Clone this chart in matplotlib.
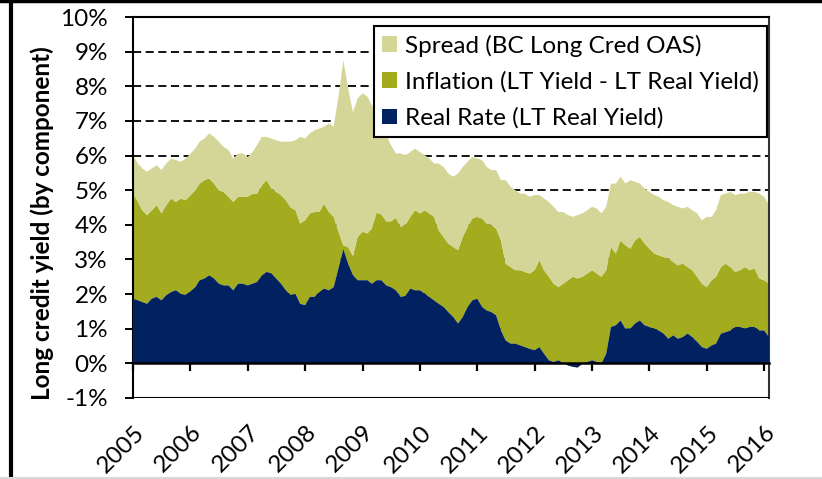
import matplotlib
matplotlib.use('Agg')
import matplotlib.pyplot as plt
import matplotlib.transforms as mtrans
import matplotlib.ticker as plticker
from matplotlib.lines import Line2D
import numpy as np
import pandas as pd

plt.rcParams['font.family'] = ['Lato', 'DejaVu Sans']

# month-start observations, Jan 2005 .. Feb 2016
dates = pd.date_range('2005-01-01', periods=134, freq='MS')

# total long credit yield, %
credit_yield = [
    6.0, 5.77, 5.63, 5.53, 5.63, 5.72, 5.58, 5.77, 5.91, 5.87, 5.82, 5.91,
    6.05, 6.2, 6.4, 6.49, 6.64, 6.54, 6.4, 6.25, 6.16, 5.91, 6.06, 6.06,
    5.96, 6.1, 6.3, 6.54, 6.54, 6.49, 6.44, 6.4, 6.4, 6.4, 6.44, 6.54,
    6.49, 6.64, 6.73, 6.78, 6.83, 6.93, 6.83, 7.7, 8.75, 7.95, 7.25, 7.65,
    7.8, 7.7, 7.45, 7.25, 7.0, 6.6, 6.3, 6.06, 6.06, 6.01, 6.1, 6.2,
    6.1, 6.01, 5.92, 5.77, 5.77, 5.67, 5.48, 5.39, 5.48, 5.67, 5.82, 5.96,
    5.91, 5.87, 5.67, 5.58, 5.58, 5.29, 5.29, 5.1, 5.0, 4.9, 4.9, 4.81,
    4.86, 4.86, 4.76, 4.66, 4.52, 4.37, 4.37, 4.28, 4.23, 4.28, 4.33, 4.42,
    4.52, 4.47, 4.33, 4.52, 5.19, 5.19, 5.39, 5.19, 5.29, 5.24, 5.19, 5.05,
    4.95, 4.86, 4.81, 4.71, 4.66, 4.57, 4.52, 4.47, 4.52, 4.42, 4.33, 4.13,
    4.23, 4.23, 4.42, 4.86, 4.9, 4.95, 4.86, 4.9, 4.9, 4.95, 4.95, 4.9,
    4.81, 4.57,
]

# nominal long treasury yield, %
lt_yield = [
    4.9, 4.66, 4.42, 4.28, 4.42, 4.57, 4.33, 4.57, 4.76, 4.66, 4.76, 4.71,
    4.85, 5.0, 5.19, 5.29, 5.34, 5.19, 5.0, 4.95, 4.81, 4.66, 4.81, 4.81,
    4.81, 4.9, 4.9, 5.14, 5.29, 5.05, 4.95, 4.86, 4.71, 4.5, 4.42, 4.04,
    4.13, 4.33, 4.37, 4.37, 4.61, 4.37, 4.23, 3.8, 3.4, 3.36, 3.1, 3.65,
    3.8, 3.75, 3.9, 4.35, 4.3, 4.1, 4.1, 4.2, 3.94, 4.0, 4.23, 4.42,
    4.33, 4.42, 4.33, 4.23, 3.84, 3.65, 3.46, 3.36, 3.27, 3.65, 3.94, 4.18,
    4.23, 4.18, 4.04, 3.99, 3.89, 3.55, 2.88, 2.78, 2.69, 2.69, 2.64, 2.59,
    2.69, 2.98, 2.69, 2.5, 2.3, 2.2, 2.3, 2.4, 2.5, 2.45, 2.5, 2.59,
    2.69, 2.59, 2.5, 2.69, 3.36, 3.17, 3.55, 3.41, 3.31, 3.55, 3.65, 3.46,
    3.31, 3.17, 3.12, 3.07, 3.03, 2.93, 2.83, 2.88, 2.78, 2.69, 2.5, 2.3,
    2.2, 2.4, 2.5, 2.78, 2.88, 2.78, 2.64, 2.69, 2.78, 2.69, 2.74, 2.45,
    2.4, 2.3,
]

# long real (TIPS) yield, %
real_yield = [
    1.87, 1.82, 1.77, 1.72, 1.87, 1.92, 1.82, 1.97, 2.06, 2.11, 2.01, 1.97,
    2.08, 2.2, 2.4, 2.45, 2.54, 2.45, 2.3, 2.25, 2.25, 2.11, 2.3, 2.3,
    2.25, 2.3, 2.35, 2.54, 2.64, 2.6, 2.45, 2.3, 2.11, 1.97, 2.01, 1.72,
    1.68, 1.92, 1.92, 2.06, 2.16, 2.11, 2.2, 2.75, 3.3, 2.88, 2.55, 2.4,
    2.4, 2.4, 2.3, 2.4, 2.4, 2.25, 2.2, 2.11, 1.92, 1.95, 2.16, 2.11,
    2.11, 2.01, 1.92, 1.82, 1.72, 1.63, 1.48, 1.34, 1.15, 1.34, 1.63, 1.82,
    1.87, 1.63, 1.53, 1.48, 1.39, 0.95, 0.66, 0.57, 0.57, 0.52, 0.47, 0.42,
    0.38, 0.47, 0.28, 0.09, 0.04, 0.09, 0.01, -0.06, -0.1, -0.12, -0.01, 0.04,
    0.09, 0.04, -0.01, 0.28, 1.05, 1.1, 1.24, 1.0, 1.0, 1.15, 1.24, 1.1,
    1.05, 1.0, 0.95, 0.86, 0.71, 0.81, 0.71, 0.76, 0.86, 0.76, 0.62, 0.47,
    0.42, 0.52, 0.57, 0.86, 0.9, 0.95, 1.05, 1.05, 1.0, 1.05, 1.05, 0.95,
    0.95, 0.76,
]

labels = ['Real Rate (LT Real Yield)',
          'Inflation (LT Yield - LT Real Yield)',
          'Spread (BC Long Cred OAS)']
colors = ['#022160', '#A3AC1E', '#D3D696']
years = list(range(2005, 2017))

real = np.array(real_yield)
inflation = np.array(lt_yield) - real
spread = np.array(credit_yield) - np.array(lt_yield)

my_dpi = 100
fs = 17.5
fig = plt.figure(figsize=(8.22, 4.79), dpi=my_dpi)
ax = fig.add_axes([133 / 822, 1 - 398 / 479, 636 / 822, 381 / 479])

polys = ax.stackplot(dates, real, inflation, spread, colors=colors,
                     labels=labels, linewidth=0)
# real rate drawn over the others so the dip below zero stays visible
polys[0].set_zorder(3)

ax.set_xlim(dates[0], dates[-1])
ax.set_ylim(-1, 10)

# dashed grid behind the areas
ax.set_axisbelow(True)
ax.yaxis.grid(True, color='black', lw=1.3, dashes=(4.5, 2.5))
ax.xaxis.grid(False)

ax.yaxis.set_major_locator(plticker.MultipleLocator(1))
ax.yaxis.set_major_formatter(plticker.FuncFormatter(lambda v, p: '%d%%' % v))
ax.tick_params(axis='y', direction='out', length=6, width=1.4, pad=12,
               labelsize=fs)

# category axis sits on the 0% line, labels hang under the frame
ax.spines['bottom'].set_position(('data', 0))
ax.spines['bottom'].set_linewidth(1.8)
ax.spines['bottom'].set_zorder(4)
ax.axhline(-1, color='black', lw=1.5, zorder=4)
ax.spines['left'].set_linewidth(1.5)
ax.spines['top'].set_linewidth(1.5)
ax.spines['right'].set_linewidth(1.5)
ax.spines['right'].set_color('#333333')

year_ticks = [pd.Timestamp('%d-01-01' % y) for y in years]
ax.set_xticks(year_ticks)
ax.tick_params(axis='x', direction='out', length=6, width=1.6,
               labelbottom=False)
shift = mtrans.ScaledTranslation(8 / my_dpi, -31 / my_dpi, fig.dpi_scale_trans)
for d, y in zip(year_ticks, years):
    ax.text(d, 0, str(y), transform=ax.get_xaxis_transform() + shift,
            rotation=45, rotation_mode='anchor', ha='right', va='center',
            fontsize=fs)

ax.set_ylabel('Long credit yield (by component)', fontsize=17.5,
              fontweight='bold')
ax.yaxis.set_label_coords(-0.124, 0.46)

handles = polys[::-1]
leg = ax.legend(handles, labels[::-1], loc='upper right',
                bbox_to_anchor=(0.997, 0.976), fontsize=fs,
                frameon=True, fancybox=False, framealpha=1,
                edgecolor='black', borderaxespad=0, borderpad=0.35,
                handlelength=0.62, handleheight=0.62, handletextpad=0.3,
                labelspacing=0.6)
leg.get_frame().set_linewidth(1.5)
leg.set_zorder(6)

# outer frame lines
fig.add_artist(Line2D([0, 1], [1 - 1 / 479, 1 - 1 / 479], color='black',
                      lw=2.5, transform=fig.transFigure))
fig.add_artist(Line2D([11 / 822, 11 / 822], [2 / 479, 1], color='black',
                      lw=3, transform=fig.transFigure))
fig.add_artist(Line2D([0, 1], [1.5 / 479, 1.5 / 479], color='#d9d9d9',
                      lw=1.5, transform=fig.transFigure))

fig.savefig('out.png', dpi=my_dpi)
